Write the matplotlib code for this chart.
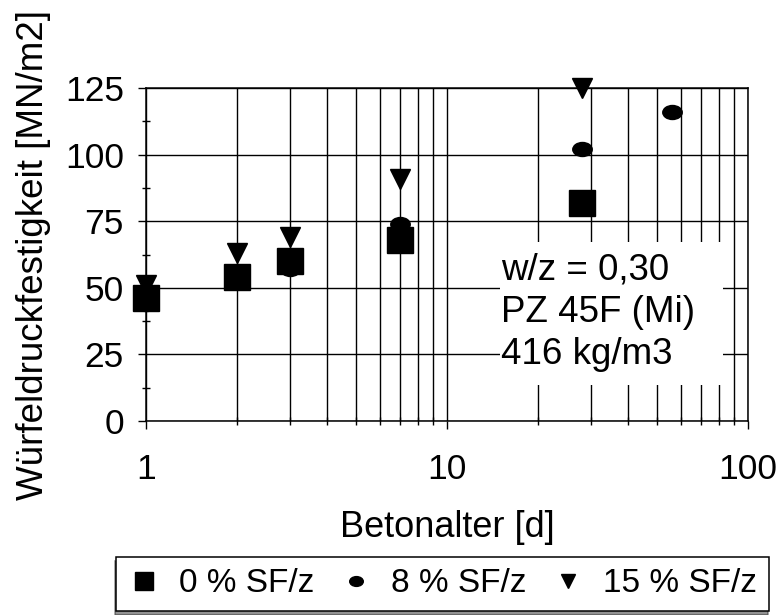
import numpy as np
import matplotlib
matplotlib.use('Agg')
import matplotlib.pyplot as plt
from matplotlib.path import Path
from matplotlib.patches import Rectangle
from matplotlib.ticker import FixedLocator, LogLocator, NullFormatter

plt.rcParams['font.family'] = ['Liberation Sans', 'DejaVu Sans']

# Betonalter [d]
age_0 = [1, 2, 3, 7, 28]
sf_0 = [46, 54, 60, 68, 82]       # 0 % SF/z
age_8 = [1, 2, 3, 7, 28, 56]
sf_8 = [44, 55, 57, 74, 102, 116]  # 8 % SF/z
age_15 = [1, 2, 3, 7, 28]
sf_15 = [51, 63, 69, 91, 125]     # 15 % SF/z

labels = ['0 % SF/z', '8 % SF/z', '15 % SF/z']
info_lines = ['w/z = 0,30', 'PZ 45F (Mi)', '416 kg/m3']

# flattened ellipse marker for the 8 % series
circ = Path.unit_circle()
ell = Path(circ.vertices * np.array([1.0, 0.72]), circ.codes)

fig = plt.figure(figsize=(7.79, 6.15), dpi=100)
ax = fig.add_axes([146/779, 1-421/615, (748-146)/779, (421-88)/615])

ax.set_xscale('log')
ax.set_xlim(1, 100)
ax.set_ylim(0, 125)

ax.xaxis.set_major_locator(FixedLocator([1, 10, 100]))
ax.xaxis.set_minor_locator(LogLocator(base=10, subs=np.arange(2, 10)))
ax.xaxis.set_minor_formatter(NullFormatter())
ax.set_xticklabels(['1', '10', '100'])
ax.yaxis.set_major_locator(FixedLocator([0, 25, 50, 75, 100, 125]))
ax.yaxis.set_minor_locator(FixedLocator([12.5, 37.5, 62.5, 87.5, 112.5]))

ax.grid(True, which='major', color='black', lw=1.0)
ax.grid(True, which='minor', axis='x', color='black', lw=1.0)
ax.set_axisbelow(True)

ax.tick_params(which='major', direction='out', length=6, width=1.0, labelsize=25.5, pad=10)
ax.tick_params(axis='x', which='major', pad=17)
ax.tick_params(which='minor', direction='inout', length=6, width=1.0)
for s in ax.spines.values():
    s.set_linewidth(1.1)
    s.set_color('black')

# white box behind the annotation
ax.add_patch(Rectangle((0.588, 0.108), 0.37, 0.43, transform=ax.transAxes,
                       facecolor='white', edgecolor='none', zorder=1.5))
ax.text(0.59, 0.505, '\n'.join(info_lines), transform=ax.transAxes,
        fontsize=26.5, va='top', ha='left', linespacing=1.27, zorder=3)

ax.plot(age_0, sf_0, ls='none', marker='s', ms=19, color='black', zorder=3,
        label=labels[0], clip_on=False)
ax.plot(age_8, sf_8, ls='none', marker=ell, ms=14, color='black', zorder=3,
        label=labels[1], clip_on=False)
ax.plot(age_15, sf_15, ls='none', marker='v', ms=15, color='black', zorder=3,
        label=labels[2], clip_on=False)

ax.set_xlabel('Betonalter [d]', fontsize=26, labelpad=17)
ax.set_ylabel('Würfeldruckfestigkeit [MN/m2]', fontsize=26.5, labelpad=10)

h, l = ax.get_legend_handles_labels()
leg = fig.legend(h, l, ncol=3, loc='center', bbox_to_anchor=(442.5/779, 1-584/615),
                 fontsize=24, frameon=True, fancybox=False, edgecolor='black',
                 markerscale=0.7, handlelength=1.0, handletextpad=0.55, columnspacing=0.75,
                 borderpad=0.35, shadow={'color': '0.15', 'ox': -1, 'oy': -3})
leg.get_frame().set_linewidth(1.1)

fig.savefig('out.png', dpi=100)
